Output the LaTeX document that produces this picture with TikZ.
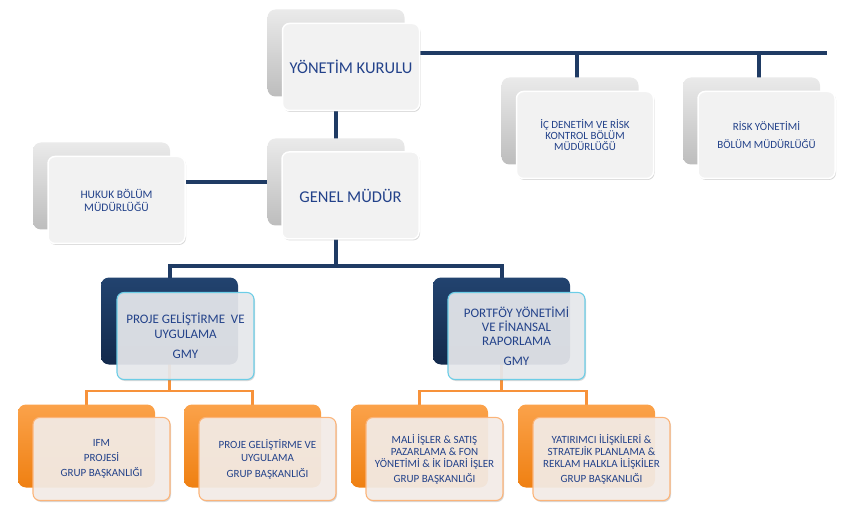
\documentclass[tikz,border=0pt]{standalone}
\usepackage{fontspec}
\setmainfont{Carlito}
\usetikzlibrary{backgrounds,shadows}
\definecolor{navy}{HTML}{1F3B64}
\definecolor{orangeln}{HTML}{F7923A}
\definecolor{txtblue}{HTML}{23428A}
\definecolor{greytop}{HTML}{EAEAEA}
\definecolor{greybot}{HTML}{BDBDBD}
\definecolor{navytop}{HTML}{22436F}
\definecolor{navybot}{HTML}{132A4C}
\definecolor{orgtop}{HTML}{FBA24A}
\definecolor{orgbot}{HTML}{EF8012}
\definecolor{frontgrey}{HTML}{F2F2F2}
\definecolor{frontblue}{HTML}{E9EBEF}
\definecolor{cyanedge}{HTML}{6CCDE6}
\definecolor{frontorg}{HTML}{F6EFEA}
\definecolor{orgedge}{HTML}{FBB47A}
\begin{document}
\begin{tikzpicture}[x=1pt,y=-1pt,
  back/.style={rounded corners=8pt, minimum width=137pt, minimum height=87pt, inner sep=0pt},
  greyback/.style={back, top color=greytop, bottom color=greybot},
  navyback/.style={back, top color=navytop, bottom color=navybot},
  orgback/.style={back, minimum height=83pt, top color=orgtop, bottom color=orgbot},
  front/.style={rounded corners=7pt, minimum width=137pt, minimum height=87pt, inner sep=2pt,
    align=center, text=txtblue, drop shadow={opacity=0.3, shadow xshift=1pt, shadow yshift=-1.5pt}},
  greyfront/.style={front, fill=frontgrey, draw=white, line width=1.5pt},
  bluefront/.style={front, fill=frontblue, fill opacity=0.9, text opacity=1, draw=cyanedge, line width=1.1pt},
  orgfront/.style={front, minimum height=83pt, fill=frontorg, fill opacity=0.9, text opacity=1, draw=orgedge, line width=1.1pt},
  navyline/.style={navy, line width=4pt},
  orgline/.style={orangeln, line width=2.5pt}]
\useasboundingbox (0,0) rectangle (855,532);

% back boxes
\node[greyback] (ykback) at (336,53) {};
\node[greyback] (gmback) at (336,182) {};
\node[greyback] (hukukback) at (101.5,186) {};
\node[greyback] (icback) at (570,121) {};
\node[greyback] (riskback) at (751.5,121) {};
\node[navyback] (gmy1back) at (169.5,321) {};
\node[navyback] (gmy2back) at (501.5,321) {};
\node[orgback] (grp1back) at (86.5,446) {};
\node[orgback] (grp2back) at (252.5,446) {};
\node[orgback] (grp3back) at (419.5,446) {};
\node[orgback] (grp4back) at (586.5,446) {};

% front boxes
\node[greyfront, font=\fontsize{16.5}{19}\selectfont] (yk) at (351,67) {YÖNETİM KURULU};
\node[greyfront, font=\fontsize{16.5}{19}\selectfont] (gm) at (350.5,195.5) {GENEL MÜDÜR};
\node[greyfront, font=\fontsize{11.5}{13}\selectfont] (hukuk) at (116.5,200) {HUKUK BÖLÜM\\MÜDÜRLÜĞÜ};
\node[greyfront, font=\fontsize{11}{11}\selectfont] (ic) at (585,135) {İÇ DENETİM VE RİSK\\KONTROL BÖLÜM\\MÜDÜRLÜĞÜ};
\node[greyfront, font=\fontsize{11}{11}\selectfont] (risk) at (766.5,135) {RİSK YÖNETİMİ\\[7pt]BÖLÜM MÜDÜRLÜĞÜ};
\node[bluefront, font=\fontsize{13}{15}\selectfont] (gmy1) at (185.5,336) {PROJE GELİŞTİRME~~VE\\UYGULAMA\\[5pt]GMY};
\node[bluefront, font=\fontsize{13}{14}\selectfont] (gmy2) at (516.5,336) {PORTFÖY YÖNETİMİ\\VE FİNANSAL\\RAPORLAMA\\[6pt]GMY};
\node[orgfront, font=\fontsize{11}{15}\selectfont] (grp1) at (101.5,459) {IFM\\PROJESİ\\GRUP BAŞKANLIĞI};
\node[orgfront, font=\fontsize{11}{13}\selectfont] (grp2) at (267.5,459) {PROJE GELİŞTİRME VE\\UYGULAMA\\[3pt]GRUP BAŞKANLIĞI};
\node[orgfront, font=\fontsize{11}{12}\selectfont] (grp3) at (434.5,459) {MALİ İŞLER \& SATIŞ\\PAZARLAMA \& FON\\YÖNETİMİ \& İK İDARİ İŞLER\\[3pt]GRUP BAŞKANLIĞI};
\node[orgfront, font=\fontsize{11}{12}\selectfont] (grp4) at (601.5,459) {YATIRIMCI İLİŞKİLERİ \&\\STRATEJİK PLANLAMA \&\\REKLAM HALKLA İLİŞKİLER\\[3pt]GRUP BAŞKANLIĞI};

% connectors
\coordinate (busend) at (827,53);
\coordinate (gmybus) at (336,266);
\coordinate (grpbus1) at (169.5,391);
\coordinate (grpbus2) at (501.5,391);
\begin{scope}[on background layer]
\path[draw,navyline] (ykback.center) -- (busend);
\path[draw,navyline] ([xshift=7pt]icback.center) -- ([xshift=7pt]icback.center |- busend);
\path[draw,navyline] ([xshift=7pt]riskback.center) -- ([xshift=7pt]riskback.center |- busend);
\path[draw,navyline] (ykback.center) -- (gmback.center);
\path[draw,navyline] (gmback.center) -- (gmback.center -| hukukback.center);
\path[draw,navyline] (gmback.center) -- (gmybus);
\path[draw,navyline] (gmy1back.center) |- (gmybus) -| (gmy2back.center);

\path[draw,orgline] (gmy1back.center) -- (grpbus1);
\path[draw,orgline] (grp1back.center) |- (grpbus1) -| (grp2back.center);
\path[draw,orgline] (gmy2back.center) -- (grpbus2);
\path[draw,orgline] (grp3back.center) |- (grpbus2) -| (grp4back.center);
\end{scope}
\end{tikzpicture}
\end{document}
